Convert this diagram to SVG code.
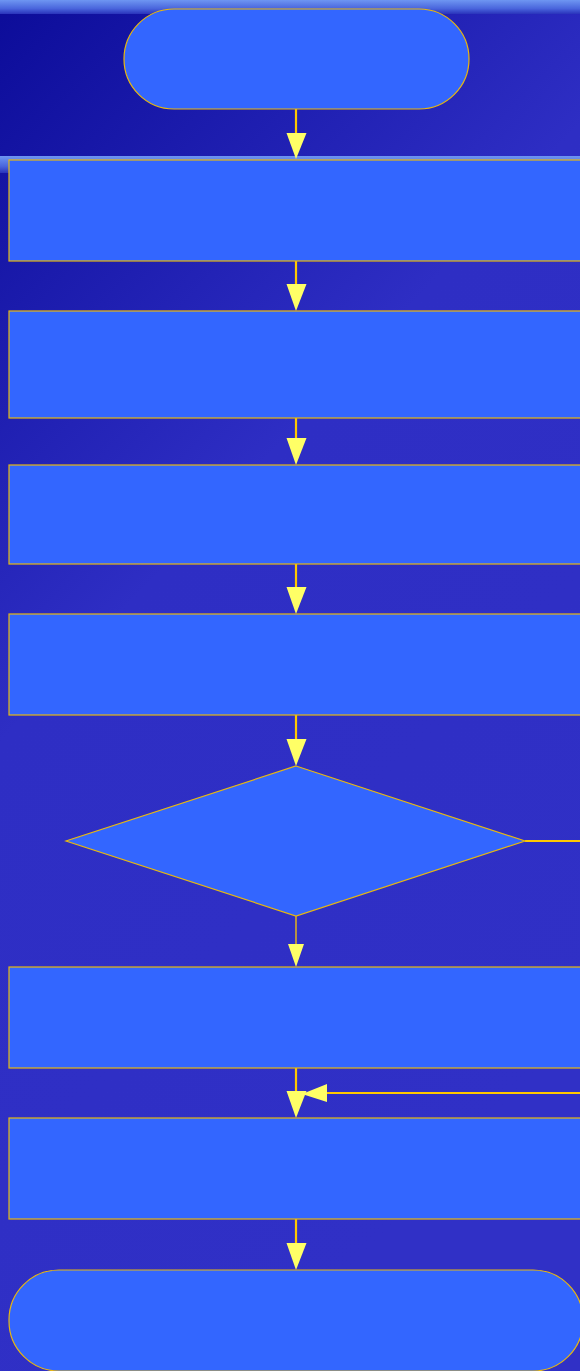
<svg xmlns="http://www.w3.org/2000/svg" width="580" height="1371" viewBox="0 0 580 1371">
<defs>
<linearGradient id="bg" x1="0" y1="0" x2="0.45" y2="1">
<stop offset="0" stop-color="#0C0C99"/>
<stop offset="0.45" stop-color="#2E2EC4"/>
<stop offset="1" stop-color="#3030C6"/>
</linearGradient>
<linearGradient id="band" x1="0" y1="0" x2="0" y2="1">
<stop offset="0" stop-color="#6E96F2"/>
<stop offset="0.6" stop-color="#4A66DD"/>
<stop offset="1" stop-color="#2A33BB"/>
</linearGradient>
<style>
.node{fill:#3366FF;stroke:#E8B810;stroke-width:1.2}
.conn{stroke:#FFC800;stroke-width:2.2;fill:none}
.head{fill:#FFFF66}
</style>
</defs>
<rect x="0" y="0" width="580" height="1371" fill="url(#bg)"/>
<rect x="0" y="0" width="580" height="14" fill="url(#band)"/>
<rect x="0" y="156" width="580" height="17" fill="url(#band)"/>
<g id="connectors">
<line class="conn" x1="296" y1="109" x2="296" y2="136"/>
<polygon class="head" points="286.5,133 306.5,133 296,159"/>
<line class="conn" x1="296" y1="261" x2="296" y2="287"/>
<polygon class="head" points="286.5,284 306.5,284 296,311"/>
<line class="conn" x1="296" y1="418" x2="296" y2="441"/>
<polygon class="head" points="286.5,438 306.5,438 296,465"/>
<line class="conn" x1="296" y1="564" x2="296" y2="590"/>
<polygon class="head" points="286.5,587 306.5,587 296,614"/>
<line class="conn" x1="296" y1="715" x2="296" y2="742"/>
<polygon class="head" points="286.5,739 306.5,739 296,766"/>
<line class="conn" x1="296" y1="916" x2="296" y2="946" style="stroke-width:1.3"/>
<polygon class="head" points="288,944 304,944 296,967"/>
<line class="conn" x1="296" y1="1068" x2="296" y2="1094"/>
<polygon class="head" points="286.5,1091 306.5,1091 296,1118"/>
<polyline class="conn" points="525,841 600,841"/>
<polyline class="conn" points="600,1093 325,1093"/>
<polygon class="head" points="327,1084 327,1102 302,1094"/>
<line class="conn" x1="296" y1="1219" x2="296" y2="1246"/>
<polygon class="head" points="286.5,1243 306.5,1243 296,1270"/>
</g>
<g id="start"><rect class="node" x="124" y="9" width="345" height="100" rx="50" ry="50"/></g>
<g id="step1"><rect class="node" x="9" y="160" width="580" height="101"/></g>
<g id="step2"><rect class="node" x="9" y="311" width="580" height="107"/></g>
<g id="step3"><rect class="node" x="9" y="465" width="580" height="99"/></g>
<g id="step4"><rect class="node" x="9" y="614" width="580" height="101"/></g>
<g id="decision"><polygon class="node" points="296,766 525,841 296,916 66,841"/></g>
<g id="step5"><rect class="node" x="9" y="967" width="580" height="101"/></g>
<g id="step6"><rect class="node" x="9" y="1118" width="580" height="101"/></g>
<g id="end"><rect class="node" x="9" y="1270" width="574" height="101" rx="50" ry="50"/></g>
</svg>
